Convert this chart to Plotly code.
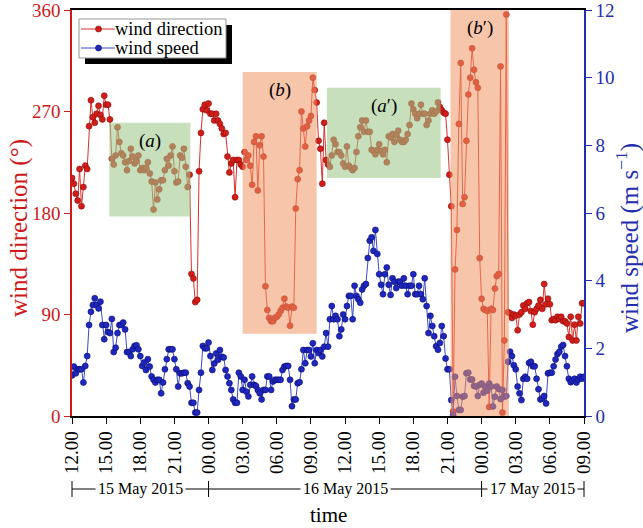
import pandas as pd
import plotly.graph_objects as go

# ---------------- data ----------------
start_time = "2015-05-15 12:00"
end_time = "2015-05-17 09:00"
sample_freq = "10min"

# wind direction (deg), one row per hour, 10-min samples
wind_direction = [
    211, 206, 197, 191, 219, 186,
    203, 222, 219, 257, 280, 265,
    260, 268, 275, 267, 263, 284,
    276, 276, 263, 228, 223, 231,
    256, 243, 233, 231, 225, 218,
    226, 237, 230, 224, 226, 231,
    218, 220, 218, 220, 225, 215,
    208, 183, 207, 192, 201, 209,
    209, 218, 228, 222, 231, 239,
    217, 207, 208, 231, 229, 237,
    221, 203, 214, 126, 122, 101,
    103, 217, 251, 272, 276, 271,
    277, 268, 268, 262, 268, 262,
    259, 255, 250, 251, 230, 216,
    224, 227, 194, 227, 227, 223,
    221, 234, 227, 231, 222, 205,
    243, 248, 200, 240, 248, 230,
    115, 94, 87, 84, 84, 87,
    88, 90, 93, 96, 104, 97,
    96, 80, 97, 96, 184, 210,
    218, 270, 255, 239, 257, 262,
    266, 300, 289, 278, 244, 237,
    206, 260, 227, 223, 221, 231,
    245, 241, 234, 234, 231, 224,
    221, 239, 222, 220, 218, 220,
    234, 248, 256, 262, 252, 262,
    252, 252, 236, 235, 232, 236,
    241, 235, 232, 236, 225, 248,
    247, 250, 243, 249, 253, 245,
    243, 243, 245, 250, 258, 277,
    272, 268, 264, 268, 276, 268,
    268, 258, 262, 268, 271, 268,
    270, 278, 274, 271, 269, 268,
    245, 214, 186, 4, 130, 165,
    259, 313, 188, 194, 244, 285,
    300, 326, 307, 296, 291, 140,
    104, 95, 94, 93, 8, 95,
    94, 113, 124, 126, 310, 3,
    67, 356, 92, 91, 87, 90,
    89, 76, 90, 92, 98, 95,
    100, 101, 93, 81, 92, 95,
    98, 103, 95, 117, 99, 104,
    99, 85, 86, 85, 88, 86,
    88, 84, 84, 82, 70, 88,
    67, 81, 67, 88, 82, 100,
    100,
]

# wind speed (m/s), one row per hour, 10-min samples
wind_speed = [
    1.20, 1.46, 1.26, 1.38, 1.38, 1.38,
    0.99, 1.48, 1.77, 2.69, 3.08, 3.28,
    3.48, 3.28, 3.18, 3.38, 2.69, 2.27,
    2.69, 2.48, 2.45, 2.87, 1.89, 2.02,
    2.45, 2.69, 2.69, 2.76, 2.56, 1.89,
    1.89, 1.77, 1.97, 2.07, 2.09, 1.97,
    1.77, 1.48, 1.58, 1.36, 1.68, 1.46,
    1.17, 1.07, 0.99, 1.07, 1.07, 0.67,
    0.99, 1.38, 1.68, 1.97, 1.97, 1.97,
    1.68, 1.38, 0.87, 1.26, 1.26, 1.28,
    1.28, 0.97, 0.87, 0.39, 0.39, 0.10,
    0.10, 0.77, 1.28, 2.07, 2.00, 2.00,
    2.17, 1.77, 1.36, 1.55, 1.85, 1.66,
    1.95, 1.75, 1.73, 1.36, 1.17, 0.97,
    0.77, 0.49, 0.39, 0.39, 1.28, 1.17,
    0.77, 1.07, 0.72, 0.58, 0.92, 1.17,
    0.92, 0.89, 0.77, 0.67, 0.49, 0.77,
    0.77, 1.17, 1.17, 0.77, 1.02, 1.07,
    1.07, 1.07, 1.07, 1.36, 1.46, 1.48,
    1.48, 1.07, 0.29, 0.49, 0.49, 0.97,
    1.00, 1.38, 1.95, 1.56, 1.95, 1.95,
    1.76, 2.15, 1.56, 1.95, 1.86, 1.95,
    1.76, 2.05, 2.45, 2.05, 2.86, 3.25,
    2.86, 2.96, 2.86, 2.36, 2.56, 3.00,
    2.86, 3.25, 3.55, 3.55, 2.86, 3.85,
    3.55, 3.45, 3.35, 3.74, 3.85, 3.90,
    4.67, 5.18, 5.28, 4.88, 5.50, 4.79,
    4.19, 3.88, 3.60, 4.19, 4.39, 3.88,
    3.58, 4.07, 3.97, 3.78, 3.97, 3.97,
    3.85, 4.07, 3.85, 3.60, 3.85, 3.85,
    4.19, 3.60, 3.60, 3.85, 3.60, 3.45,
    4.07, 3.25, 2.45, 2.96, 2.66, 2.36,
    2.06, 1.96, 2.16, 2.66, 2.36, 1.70,
    1.38, 1.38, 0.47, 0.03, 1.16, 0.59,
    0.18, 0.18, 0.57, 0.59, 1.26, 1.28,
    1.08, 1.08, 0.89, 0.87, 0.59, 0.92,
    0.96, 0.69, 0.87, 0.75, 0.96, 0.87,
    0.28, 0.57, 0.87, 0.80, 0.50, 0.77,
    0.57, 0.59, 1.60, 1.90, 1.77, 1.50,
    1.38, 0.87, 0.67, 0.47, 1.10, 1.16,
    1.10, 1.57, 1.60, 1.47, 1.47, 1.10,
    0.79, 0.49, 0.52, 0.59, 0.37, 1.26,
    1.28, 1.28, 1.47, 1.67, 1.83, 1.90,
    2.05, 2.10, 1.77, 1.47, 1.10, 1.00,
    1.05, 1.10, 0.99, 1.08, 1.16, 1.10,
    1.16,
]

tick_labels = ["12.00", "15.00", "18.00", "21.00", "00.00", "03.00", "06.00", "09.00",
               "12.00", "15.00", "18.00", "21.00", "00.00", "03.00", "06.00", "09.00"]

dir_ticks = [0, 90, 180, 270, 360]
speed_ticks = [0, 2, 4, 6, 8, 10, 12]

# highlighted periods
region_labels = ["(<i>a</i>)", "(<i>b</i>)", "(<i>a</i>′)", "(<i>b</i>′)"]
region_start = ["2015-05-15 15:17", "2015-05-16 03:00", "2015-05-16 10:24", "2015-05-16 21:16"]
region_end = ["2015-05-15 22:24", "2015-05-16 09:30", "2015-05-16 20:24", "2015-05-17 02:24"]
region_low = [177, 73, 211, 0]
region_high = [260, 305, 291, 360]
region_kind = ["green", "orange", "green", "orange"]

date_labels = ["15 May 2015", "16 May 2015", "17 May 2015"]
date_bounds = ["2015-05-15 12:00", "2015-05-16 00:00", "2015-05-17 00:00", "2015-05-17 09:00"]

series_names = ["wind direction", "wind speed"]
axis_titles = ["wind direction (°)", "wind speed (m s<sup>−1</sup>)", "time"]

# ---------------- figure ----------------
FONT = "Liberation Serif"
RED = "rgb(205,25,25)"
BLUE = "rgb(35,45,175)"
LINE_COLORS = ["rgb(215,50,45)", "rgb(60,75,200)"]
MARK_COLORS = ["rgb(210,30,25)", "rgb(30,40,190)"]
MARK_EDGES = ["rgb(140,10,10)", "rgb(10,10,110)"]

W, H = 643, 528
ML, MR, MT, MB = 72, 59, 10, 112
PW, PH = W - ML - MR, H - MT - MB

times = pd.date_range(start_time, periods=len(wind_direction), freq=sample_freq)
tick_times = pd.date_range(start_time, end_time, freq="3h")
t0 = pd.Timestamp(start_time)
t1 = pd.Timestamp(end_time)


def to_paper(t):
    return (pd.Timestamp(t) - t0) / (t1 - t0)


def px_x(px):  # pixel -> paper x
    return (px - ML) / PW


def px_y(py):  # pixel -> paper y
    return (H - MB - py) / PH


fig = go.Figure()
for i, (name, vals, ax) in enumerate(zip(series_names, [wind_direction, wind_speed], ["y", "y2"])):
    fig.add_trace(go.Scatter(
        x=times, y=vals, name=name, mode="lines+markers",
        line=dict(color=LINE_COLORS[i], width=1),
        marker=dict(color=MARK_COLORS[i], size=6, line=dict(color=MARK_EDGES[i], width=0.6)),
        yaxis=ax, showlegend=False,
    ))

fills = {"green": "rgb(159,202,137)", "orange": "rgb(240,150,100)"}
alphas = {"green": 0.58, "orange": 0.55}
for lab, xs, xe, lo, hi, kind in zip(region_labels, region_start, region_end,
                                      region_low, region_high, region_kind):
    fig.add_shape(type="rect", xref="x", yref="y", x0=xs, x1=xe, y0=lo, y1=hi,
                  fillcolor=fills[kind], opacity=alphas[kind], line_width=0, layer="above")
    mid = pd.Timestamp(xs) + (pd.Timestamp(xe) - pd.Timestamp(xs)) / 2
    fig.add_annotation(x=mid, y=hi, xref="x", yref="y", text=lab, showarrow=False,
                       xanchor="center", yanchor="top", yshift=-5,
                       font=dict(family=FONT, size=19, color="black"))

# date brackets below the axis
yb = px_y(489)
fig.add_shape(type="line", xref="paper", yref="paper", x0=0, x1=1, y0=yb, y1=yb,
              line=dict(color="black", width=1))
for b in date_bounds:
    p = to_paper(b)
    fig.add_shape(type="line", xref="paper", yref="paper", x0=p, x1=p,
                  y0=px_y(497), y1=px_y(481), line=dict(color="black", width=1))
for i, lab in enumerate(date_labels):
    mid = (to_paper(date_bounds[i]) + to_paper(date_bounds[i + 1])) / 2
    fig.add_annotation(x=mid, y=yb, xref="paper", yref="paper", text=lab, showarrow=False,
                       xanchor="center", yanchor="middle",
                       bgcolor="white", borderpad=2, font=dict(family=FONT, size=16, color="black"))

# axis titles
fig.add_annotation(x=0.5, y=px_y(515), xref="paper", yref="paper", text=axis_titles[2],
                   showarrow=False, xanchor="center", yanchor="middle",
                   font=dict(family=FONT, size=21, color="black"))
fig.add_annotation(x=px_x(19), y=px_y(228), xref="paper", yref="paper", text=axis_titles[0],
                   showarrow=False, xanchor="center", yanchor="middle", textangle=-90,
                   font=dict(family=FONT, size=25, color=RED))
fig.add_annotation(x=px_x(627), y=px_y(238), xref="paper", yref="paper", text=axis_titles[1],
                   showarrow=False, xanchor="center", yanchor="middle", textangle=-90,
                   font=dict(family=FONT, size=25, color=BLUE))

# hand-drawn legend with drop shadow
fig.add_shape(type="rect", xref="paper", yref="paper", x0=px_x(85), x1=px_x(232),
              y0=px_y(64), y1=px_y(25), fillcolor="black", line_width=0, layer="above")
fig.add_shape(type="rect", xref="paper", yref="paper", x0=px_x(79), x1=px_x(226),
              y0=px_y(58), y1=px_y(19), fillcolor="white",
              line=dict(color="rgb(150,150,150)", width=1), layer="above")
for i, (name, yy) in enumerate(zip(series_names, [29, 48])):
    fig.add_shape(type="line", xref="paper", yref="paper", x0=px_x(81), x1=px_x(115),
                  y0=px_y(yy), y1=px_y(yy), line=dict(color=LINE_COLORS[i], width=1), layer="above")
    fig.add_shape(type="circle", xref="paper", yref="paper", x0=px_x(95.5), x1=px_x(101.5),
                  y0=px_y(yy + 3), y1=px_y(yy - 3), fillcolor=MARK_COLORS[i],
                  line=dict(color=MARK_EDGES[i], width=0.6), layer="above")
    fig.add_annotation(x=px_x(113), y=px_y(yy), xref="paper", yref="paper", text=name,
                       showarrow=False, xanchor="left", yanchor="middle",
                       font=dict(family=FONT, size=18.5, color="black"))

fig.update_layout(
    width=W, height=H,
    margin=dict(l=ML, r=MR, t=MT, b=MB),
    paper_bgcolor="white", plot_bgcolor="white",
    font=dict(family=FONT, size=19, color="black"),
    showlegend=False,
    xaxis=dict(
        range=[t0, t1], tickvals=list(tick_times), ticktext=tick_labels, tickangle=-90,
        showline=True, linecolor="black", linewidth=1.5, mirror=True,
        ticks="outside", ticklen=6, tickcolor="black", showgrid=False, zeroline=False,
        tickfont=dict(family=FONT, size=19, color="black"), automargin=False,
        ticklabeloverflow="allow",
    ),
    yaxis=dict(
        range=[0, 360], tickvals=dir_ticks, showline=True, linecolor=RED, linewidth=1.5,
        ticks="outside", ticklen=6, tickcolor=RED, showgrid=False, zeroline=False,
        tickfont=dict(family=FONT, size=19, color=RED), ticklabeloverflow="allow",
        automargin=False,
    ),
    yaxis2=dict(
        range=[0, 12], tickvals=speed_ticks, overlaying="y", side="right", anchor="x",
        showline=True, linecolor=BLUE, linewidth=1.5,
        ticks="outside", ticklen=6, tickcolor=BLUE, showgrid=False, zeroline=False,
        tickfont=dict(family=FONT, size=19, color=BLUE), ticklabeloverflow="allow",
        automargin=False,
    ),
)

fig.write_html("out.html", config={"displayModeBar": False},
               post_script="document.body.style.margin='0';")
